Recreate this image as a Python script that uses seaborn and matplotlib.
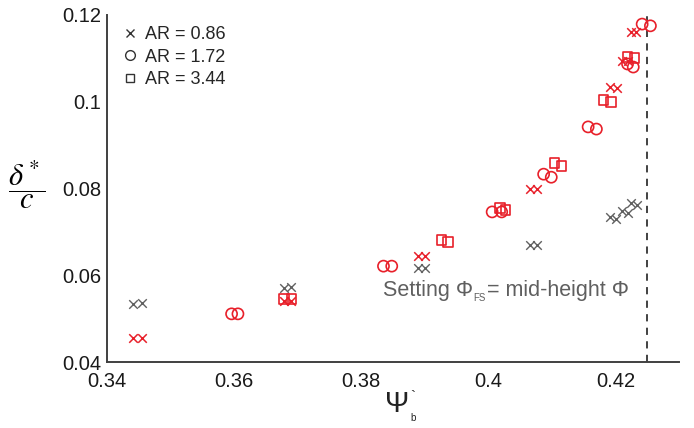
import matplotlib
matplotlib.use("Agg")
import matplotlib.pyplot as plt
from matplotlib.lines import Line2D
from matplotlib.ticker import MultipleLocator
import seaborn as sns
import pandas as pd

# Displacement thickness vs. blade loading, three aspect ratios
ar_labels = ["AR = 0.86", "AR = 1.72", "AR = 3.44"]

# AR = 0.86, setting Phi_FS = mid-height Phi (red)
x_ar086 = [0.3441, 0.3455, 0.3678, 0.3689, 0.3889, 0.3900, 0.4065, 0.4076,
           0.4192, 0.4203, 0.4211, 0.4220, 0.4225, 0.4233]
y_ar086 = [0.0455, 0.0455, 0.0541, 0.0541, 0.0644, 0.0644, 0.0799, 0.0799,
           0.1034, 0.1032, 0.1094, 0.1094, 0.1161, 0.1161]

# AR = 0.86, reference setting (grey)
x_ar086_ref = [0.3441, 0.3455, 0.3678, 0.3689, 0.3889, 0.3900, 0.4065, 0.4076,
               0.4191, 0.4201, 0.4211, 0.4220, 0.4225, 0.4234]
y_ar086_ref = [0.0534, 0.0536, 0.0571, 0.0573, 0.0617, 0.0617, 0.0670, 0.0670,
               0.0734, 0.0730, 0.0748, 0.0743, 0.0767, 0.0762]

# AR = 1.72
x_ar172 = [0.3596, 0.3606, 0.3835, 0.3848, 0.4006, 0.4021, 0.4087, 0.4099,
           0.4157, 0.4170, 0.4219, 0.4228, 0.4242, 0.4255]
y_ar172 = [0.0511, 0.0511, 0.0621, 0.0621, 0.0746, 0.0746, 0.0833, 0.0826,
           0.0942, 0.0937, 0.1087, 0.1080, 0.1179, 0.1175]

# AR = 3.44
x_ar344 = [0.3678, 0.3690, 0.3926, 0.3937, 0.4018, 0.4027, 0.4104, 0.4115,
           0.4181, 0.4193, 0.4219, 0.4230]
y_ar344 = [0.0545, 0.0545, 0.0681, 0.0677, 0.0755, 0.0751, 0.0859, 0.0852,
           0.1004, 0.0999, 0.1103, 0.1101]

psi_limit = 0.425
x_ticks = [0.34, 0.36, 0.38, 0.40, 0.42]
x_tick_labels = ["0.34", "0.36", "0.38", "0.4", "0.42"]
y_ticks = [0.04, 0.06, 0.08, 0.10, 0.12]
y_tick_labels = ["0.04", "0.06", "0.08", "0.1", "0.12"]

sns.set_theme(style="white")
plt.rcParams["font.family"] = ["Liberation Sans", "DejaVu Sans"]
plt.rcParams["mathtext.fontset"] = "stix"

RED = "#e8202a"
GREY = "#606060"
AXC = "#404040"
NOTE = "#5f5f5f"

fig = plt.figure(figsize=(6.94, 4.28), dpi=100)
ax = fig.add_axes([0.1542, 0.1542, 0.9784 - 0.1542, 0.965 - 0.1542])

series = [
    (x_ar086_ref, y_ar086_ref, "x", GREY, 38, 1.0),
    (x_ar086, y_ar086, "x", RED, 38, 1.1),
    (x_ar172, y_ar172, "o", RED, 64, 1.2),
    (x_ar344, y_ar344, "s", RED, 48, 1.2),
]
for xs, ys, mk, col, size, lw in series:
    df = pd.DataFrame({"psi": xs, "delta": ys})
    if mk == "x":
        sns.scatterplot(data=df, x="psi", y="delta", marker=mk, color=col,
                        s=size, linewidth=lw, ax=ax, legend=False, zorder=3)
    else:
        sns.scatterplot(data=df, x="psi", y="delta", marker=mk, s=size,
                        facecolor="none", edgecolor=col, linewidth=lw,
                        ax=ax, legend=False, zorder=3)

ax.axvline(psi_limit, color="#333333", linestyle=(0, (4, 3.5)), linewidth=1.3,
           zorder=2)

ax.set_xlim(0.34, 0.43)
ax.set_ylim(0.04, 0.12)
ax.set_xticks(x_ticks)
ax.set_xticklabels(x_tick_labels)
ax.set_yticks(y_ticks)
ax.set_yticklabels(y_tick_labels)
ax.xaxis.set_minor_locator(MultipleLocator(0.01))
ax.yaxis.set_minor_locator(MultipleLocator(0.01))
ax.tick_params(which="both", direction="in", length=5, width=1.2,
               color=AXC, labelsize=14.5, labelcolor="#1a1a1a", pad=4)
ax.tick_params(axis="x", which="major", pad=7)
for side in ("top", "right"):
    ax.spines[side].set_visible(False)
for side in ("left", "bottom"):
    ax.spines[side].set_color(AXC)
    ax.spines[side].set_linewidth(1.4)
ax.set_xlabel("")
ax.set_ylabel("")

handles = [
    Line2D([], [], linestyle="none", marker="x", color="#333333",
           markersize=5.5, markeredgewidth=1.0),
    Line2D([], [], linestyle="none", marker="o", markerfacecolor="none",
           markeredgecolor="#333333", markersize=7, markeredgewidth=1.0),
    Line2D([], [], linestyle="none", marker="s", markerfacecolor="none",
           markeredgecolor="#333333", markersize=6, markeredgewidth=1.0),
]
ax.legend(handles, ar_labels, loc="upper left", bbox_to_anchor=(0.005, 1.005),
          frameon=False, fontsize=13, handlelength=0.8, handletextpad=0.45,
          labelspacing=0.32, borderaxespad=0.3)

# Annotation: Setting Phi_FS = mid-height Phi
t1 = ax.text(0.3834, 0.0564, "Setting Φ", fontsize=15.5, color=NOTE,
             ha="left", va="center")
t2 = ax.annotate("FS", xy=(1, 0), xycoords=t1, xytext=(0.5, -1.5),
                 textcoords="offset points", fontsize=7, color=NOTE,
                 ha="left", va="bottom")
ax.annotate("= mid-height Φ", xy=(1, 0), xycoords=t2, xytext=(1.0, 1.5),
            textcoords="offset points", fontsize=15.5, color=NOTE,
            ha="left", va="bottom")

fig.text(27 / 694, 1 - 185 / 428, r"$\dfrac{\delta^*}{c}$", fontsize=22,
         ha="center", va="center", color="black")
fig.text(397 / 694, 1 - 404 / 428, "Ψ", fontsize=21, ha="center",
         va="center", color="#222222")
fig.text(410 / 694, 1 - 418 / 428, "b", fontsize=7, ha="left",
         va="center", color="#222222")
fig.text(410 / 694, 1 - 397 / 428, "`", fontsize=11, ha="left",
         va="center", color="#222222")

fig.savefig("out.png", dpi=100)
